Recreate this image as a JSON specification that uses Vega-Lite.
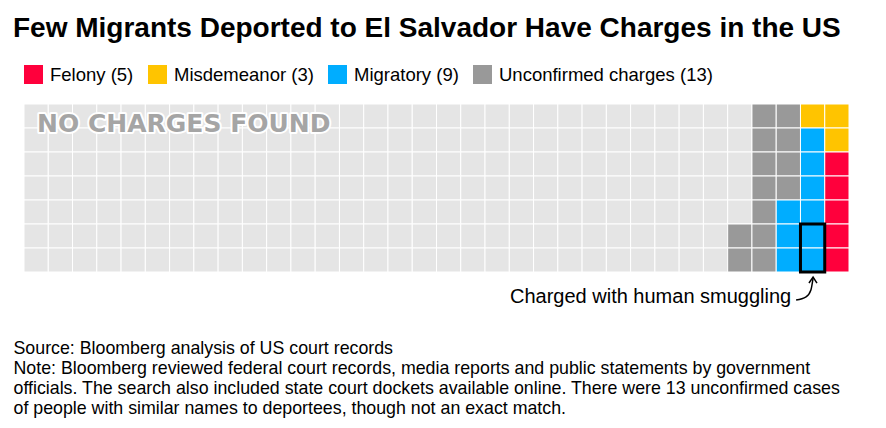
{
  "$schema": "https://vega.github.io/schema/vega-lite/v6.json",
  "autosize": {"type": "none"},
  "padding": {"left": 24, "top": 104, "right": 37, "bottom": 156},
  "width": 825,
  "height": 168,
  "background": "white",
  "title": {
    "text": "Few Migrants Deported to El Salvador Have Charges in the US",
    "anchor": "start",
    "frame": "group",
    "dx": -11,
    "offset": 22,
    "font": "Liberation Sans",
    "fontSize": 28,
    "fontWeight": "bold",
    "color": "#000000"
  },
  "config": {"view": {"stroke": null}},
  "datasets": {
    "cells": [
      {"c": 1, "k": ["N","N","N","N","N","N","N"], "r": [1,2,3,4,5,6,7]},
      {"c": 2, "k": ["N","N","N","N","N","N","N"], "r": [1,2,3,4,5,6,7]},
      {"c": 3, "k": ["N","N","N","N","N","N","N"], "r": [1,2,3,4,5,6,7]},
      {"c": 4, "k": ["N","N","N","N","N","N","N"], "r": [1,2,3,4,5,6,7]},
      {"c": 5, "k": ["N","N","N","N","N","N","N"], "r": [1,2,3,4,5,6,7]},
      {"c": 6, "k": ["N","N","N","N","N","N","N"], "r": [1,2,3,4,5,6,7]},
      {"c": 7, "k": ["N","N","N","N","N","N","N"], "r": [1,2,3,4,5,6,7]},
      {"c": 8, "k": ["N","N","N","N","N","N","N"], "r": [1,2,3,4,5,6,7]},
      {"c": 9, "k": ["N","N","N","N","N","N","N"], "r": [1,2,3,4,5,6,7]},
      {"c": 10, "k": ["N","N","N","N","N","N","N"], "r": [1,2,3,4,5,6,7]},
      {"c": 11, "k": ["N","N","N","N","N","N","N"], "r": [1,2,3,4,5,6,7]},
      {"c": 12, "k": ["N","N","N","N","N","N","N"], "r": [1,2,3,4,5,6,7]},
      {"c": 13, "k": ["N","N","N","N","N","N","N"], "r": [1,2,3,4,5,6,7]},
      {"c": 14, "k": ["N","N","N","N","N","N","N"], "r": [1,2,3,4,5,6,7]},
      {"c": 15, "k": ["N","N","N","N","N","N","N"], "r": [1,2,3,4,5,6,7]},
      {"c": 16, "k": ["N","N","N","N","N","N","N"], "r": [1,2,3,4,5,6,7]},
      {"c": 17, "k": ["N","N","N","N","N","N","N"], "r": [1,2,3,4,5,6,7]},
      {"c": 18, "k": ["N","N","N","N","N","N","N"], "r": [1,2,3,4,5,6,7]},
      {"c": 19, "k": ["N","N","N","N","N","N","N"], "r": [1,2,3,4,5,6,7]},
      {"c": 20, "k": ["N","N","N","N","N","N","N"], "r": [1,2,3,4,5,6,7]},
      {"c": 21, "k": ["N","N","N","N","N","N","N"], "r": [1,2,3,4,5,6,7]},
      {"c": 22, "k": ["N","N","N","N","N","N","N"], "r": [1,2,3,4,5,6,7]},
      {"c": 23, "k": ["N","N","N","N","N","N","N"], "r": [1,2,3,4,5,6,7]},
      {"c": 24, "k": ["N","N","N","N","N","N","N"], "r": [1,2,3,4,5,6,7]},
      {"c": 25, "k": ["N","N","N","N","N","N","N"], "r": [1,2,3,4,5,6,7]},
      {"c": 26, "k": ["N","N","N","N","N","N","N"], "r": [1,2,3,4,5,6,7]},
      {"c": 27, "k": ["N","N","N","N","N","N","N"], "r": [1,2,3,4,5,6,7]},
      {"c": 28, "k": ["N","N","N","N","N","N","N"], "r": [1,2,3,4,5,6,7]},
      {"c": 29, "k": ["N","N","N","N","N","N","N"], "r": [1,2,3,4,5,6,7]},
      {"c": 30, "k": ["N","N","N","N","N","U","U"], "r": [1,2,3,4,5,6,7]},
      {"c": 31, "k": ["U","U","U","U","U","U","U"], "r": [1,2,3,4,5,6,7]},
      {"c": 32, "k": ["U","U","U","U","M","M","M"], "r": [1,2,3,4,5,6,7]},
      {"c": 33, "k": ["Y","M","M","M","M","M","M"], "r": [1,2,3,4,5,6,7]},
      {"c": 34, "k": ["Y","Y","F","F","F","F","F"], "r": [1,2,3,4,5,6,7]}
    ],
    "cats": [
      {"k": "F", "label": "Felony (5)"},
      {"k": "Y", "label": "Misdemeanor (3)"},
      {"k": "M", "label": "Migratory (9)"},
      {"k": "U", "label": "Unconfirmed charges (13)"}
    ],
    "arrow": [
      {"part": "curve", "i": 1, "x": 31.82, "y": 8.17},
      {"part": "curve", "i": 2, "x": 32.23, "y": 8.04},
      {"part": "curve", "i": 3, "x": 32.43, "y": 7.75},
      {"part": "curve", "i": 4, "x": 32.52, "y": 7.25},
      {"part": "head", "i": 1, "x": 32.35, "y": 7.46},
      {"part": "head", "i": 2, "x": 32.52, "y": 7.21},
      {"part": "head", "i": 3, "x": 32.68, "y": 7.46}
    ]
  },
  "resolve": {"scale": {"x": "independent", "y": "independent", "color": "independent"}, "axis": {"x": "independent", "y": "independent"}},
  "layer": [
    {
      "data": {"name": "cells"},
      "transform": [{"flatten": ["k", "r"]}],
      "encoding": {
        "x": {
          "field": "c", "type": "ordinal",
          "scale": {"paddingInner": 0, "paddingOuter": 0},
          "axis": {
            "labels": false, "ticks": false, "domain": false,
            "title": [
              "Source: Bloomberg analysis of US court records",
              "Note: Bloomberg reviewed federal court records, media reports and public statements by government",
              "officials. The search also included state court dockets available online. There were 13 unconfirmed cases",
              "of people with similar names to deportees, though not an exact match."
            ],
            "titleAnchor": "start", "titleAlign": "left", "titleX": -11, "titleY": 81,
            "titleBaseline": "alphabetic", "titleFont": "Liberation Sans", "titleFontSize": 17.8,
            "titleFontWeight": "normal", "titleColor": "#000000", "titleLineHeight": 20
          }
        },
        "y": {"field": "r", "type": "ordinal", "scale": {"paddingInner": 0, "paddingOuter": 0}, "axis": null}
      },
      "layer": [
        {
          "mark": {"type": "rect", "fill": "#e5e5e5", "stroke": "white", "strokeWidth": 1}
        },
        {
          "transform": [
            {"filter": "datum.k != 'N'"},
            {"lookup": "k", "from": {"data": {"name": "cats"}, "key": "k", "fields": ["label"]}}
          ],
          "mark": {"type": "rect", "stroke": "white", "strokeWidth": 1, "opacity": 1},
          "encoding": {
            "color": {
              "field": "label", "type": "nominal",
              "scale": {
                "domain": ["Felony (5)", "Misdemeanor (3)", "Migratory (9)", "Unconfirmed charges (13)"],
                "range": ["#ff003c", "#ffc400", "#00adff", "#999999"]
              },
              "legend": {
                "title": null, "orient": "none", "legendX": 0, "legendY": -39,
                "direction": "horizontal", "symbolType": "square", "symbolSize": 361,
                "symbolStrokeWidth": 0, "symbolOpacity": 1,
                "labelFont": "Liberation Sans", "labelFontSize": 18.5, "labelColor": "#000000",
                "labelOffset": 7, "columnPadding": 14, "labelLimit": 0
              }
            }
          }
        }
      ]
    },
    {
      "encoding": {
        "x": {"field": "x", "type": "quantitative", "scale": {"domain": [0, 34], "nice": false, "zero": false}, "axis": null},
        "y": {"field": "y", "type": "quantitative", "scale": {"domain": [0, 7], "nice": false, "zero": false, "reverse": true}, "axis": null}
      },
      "layer": [
        {
          "data": {"values": [{"x": 32, "x2": 33, "y": 5, "y2": 7}]},
          "mark": {"type": "rect", "fillOpacity": 0, "stroke": "#000000", "strokeWidth": 3},
          "encoding": {"x2": {"field": "x2"}, "y2": {"field": "y2"}}
        },
        {
          "data": {"values": [{"label": "NO CHARGES FOUND", "x": 0.54, "y": 1.17}]},
          "mark": {"type": "text", "align": "left", "baseline": "alphabetic", "font": "DejaVu Sans", "fontWeight": "bold", "fontSize": 25, "fill": "white", "stroke": "white", "strokeWidth": 4, "strokeJoin": "round"},
          "encoding": {"text": {"field": "label"}}
        },
        {
          "data": {"values": [{"label": "NO CHARGES FOUND", "x": 0.54, "y": 1.17}]},
          "mark": {"type": "text", "align": "left", "baseline": "alphabetic", "font": "DejaVu Sans", "fontWeight": "bold", "fontSize": 25, "fill": "#a5a5a5"},
          "encoding": {"text": {"field": "label"}}
        },
        {
          "data": {"values": [{"label": "Charged with human smuggling", "x": 31.62, "y": 8.04}]},
          "mark": {"type": "text", "align": "right", "baseline": "middle", "font": "Liberation Sans", "fontSize": 20, "fill": "#000000"},
          "encoding": {"text": {"field": "label"}}
        },
        {
          "data": {"name": "arrow"},
          "transform": [{"filter": "datum.part == 'curve'"}],
          "mark": {"type": "line", "interpolate": "monotone", "stroke": "#000000", "strokeWidth": 1.5},
          "encoding": {"order": {"field": "i", "type": "quantitative"}}
        },
        {
          "data": {"name": "arrow"},
          "transform": [{"filter": "datum.part == 'head'"}],
          "mark": {"type": "line", "stroke": "#000000", "strokeWidth": 1.5},
          "encoding": {"order": {"field": "i", "type": "quantitative"}}
        }
      ]
    }
  ]
}
